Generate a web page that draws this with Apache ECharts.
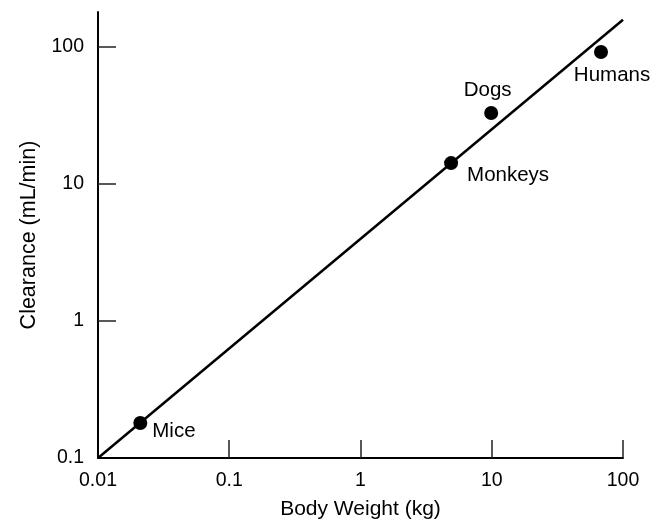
<!DOCTYPE html>
<html>
<head>
<meta charset="utf-8">
<script src="https://cdn.jsdelivr.net/npm/echarts@6/dist/echarts.min.js"></script>
<style>html,body{margin:0;padding:0;background:#fff}#c{width:663px;height:521px}</style>
</head>
<body>
<div id="c"></div>
<script>
const speciesNames = ['Mice', 'Monkeys', 'Dogs', 'Humans'];
const bodyWeightKg = [0.021, 4.9, 9.9, 68];
const clearanceMlMin = [0.18, 14.2, 33, 92];
const fitLineX = [0.01, 100];
const fitLineY = [0.1, 158];
const xTickValues = [0.01, 0.1, 1, 10, 100];
const yTickValues = [0.1, 1, 10, 100];
const xTickLabels = ['0.01', '0.1', '1', '10', '100'];
const yTickLabels = ['0.1', '1', '10', '100'];

const labelPlacement = {
  'Mice': { position: 'right', offset: [0, 8] },
  'Monkeys': { position: 'right', offset: [4, 12] },
  'Dogs': { position: 'top', offset: [-3.5, 0] },
  'Humans': { position: 'bottom', offset: [11, 1] }
};

const font = 'Liberation Sans, Arial, sans-serif';
const chart = echarts.init(document.getElementById('c'), null, { renderer: 'canvas' });

const scatterData = speciesNames.map((n, i) => ({
  name: n,
  value: [bodyWeightKg[i], clearanceMlMin[i]],
  label: Object.assign({ show: true, formatter: n, color: '#000', fontSize: 20.5, fontFamily: font }, labelPlacement[n])
}));

function fmt(ticks, labels) {
  return v => {
    const i = ticks.findIndex(t => Math.abs(Math.log10(t) - Math.log10(v)) < 1e-6);
    return i >= 0 ? labels[i] : '';
  };
}

chart.setOption({
  animation: false,
  backgroundColor: '#fff',
  grid: { left: 98, right: 40, top: 12, bottom: 63, containLabel: false, outerBoundsMode: 'none' },
  xAxis: {
    type: 'log', logBase: 10, min: 0.01, max: 100,
    name: 'Body Weight (kg)', nameLocation: 'middle', nameGap: 41,
    nameTextStyle: { color: '#000', fontSize: 21, fontFamily: font },
    axisLine: { show: true, lineStyle: { color: '#000', width: 2 } },
    axisTick: { show: true, inside: true, length: 18, customValues: xTickValues.slice(1), lineStyle: { color: '#222', width: 1.5 } },
    axisLabel: { show: true, margin: 13, color: '#000', fontSize: 19.5, fontFamily: font, customValues: xTickValues,
      formatter: fmt(xTickValues, xTickLabels) },
    splitLine: { show: false }
  },
  yAxis: {
    type: 'log', logBase: 10, min: 0.1, max: 180,
    name: 'Clearance (mL/min)', nameLocation: 'middle', nameGap: 58,
    nameTextStyle: { color: '#000', fontSize: 21.5, fontFamily: font },
    axisLine: { show: true, lineStyle: { color: '#000', width: 2 } },
    axisTick: { show: true, inside: true, length: 18, customValues: yTickValues.slice(1), lineStyle: { color: '#222', width: 1.5 } },
    axisLabel: { show: true, margin: 14, color: '#000', fontSize: 19.5, fontFamily: font, customValues: yTickValues,
      formatter: fmt(yTickValues, yTickLabels) },
    splitLine: { show: false }
  },
  series: [
    {
      type: 'line',
      data: fitLineX.map((x, i) => [x, fitLineY[i]]),
      showSymbol: false, symbol: 'none',
      lineStyle: { color: '#000', width: 2.5 },
      silent: true, clip: false
    },
    {
      type: 'scatter',
      data: scatterData,
      symbol: 'circle', symbolSize: 14,
      itemStyle: { color: '#000', opacity: 1 },
      label: { color: '#000', fontSize: 20.5, fontFamily: font, distance: 5 }
    }
  ]
});
</script>
</body>
</html>
